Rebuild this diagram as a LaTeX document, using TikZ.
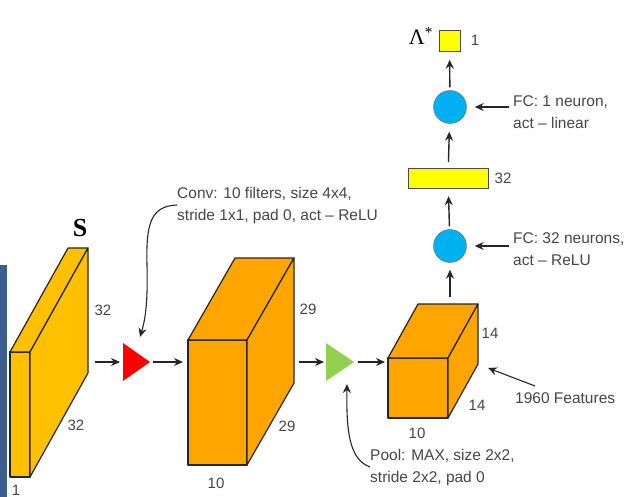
\documentclass[tikz,border=0pt]{standalone}
\usepackage{fontspec}
\setmainfont{Liberation Sans}
\newfontfamily\serifface{Liberation Serif}
\usetikzlibrary{arrows.meta,positioning,calc}

\definecolor{inputgold}{RGB}{255,192,0}
\definecolor{mapamber}{RGB}{255,165,0}
\definecolor{convred}{RGB}{255,0,0}
\definecolor{poolgreen}{RGB}{146,208,80}
\definecolor{fcblue}{RGB}{0,176,240}
\definecolor{vecyellow}{RGB}{255,255,0}
\definecolor{barblue}{RGB}{59,95,140}
\definecolor{txtgray}{RGB}{70,70,70}

\begin{document}
\begin{tikzpicture}[
    x=1pt, y=-1pt,
    face_style/.style={draw=black!85, line width=1.2pt, line join=round},
    dim_lbl/.style={font=\fontsize{15}{18}\selectfont, text=txtgray, inner sep=0pt},
    note_lbl/.style={font=\fontsize{15.5}{22}\selectfont, text=txtgray, align=left, anchor=west, inner sep=0pt},
    neuron_style/.style={circle, draw=black!60, thin, fill=fcblue, minimum size=33pt, inner sep=0pt},
    vec_style/.style={draw=black!70, thin, fill=vecyellow, inner sep=0pt},
    arr/.style={-{Stealth[length=9pt, width=8pt]}, line width=1.4pt, black!85}
]
\useasboundingbox (0,0) rectangle (631,497);

% ===== edge strip on the left =====
\fill[barblue] (0,265) rectangle (7,497);

% ===== input S (1 x 32 x 32) =====
\filldraw[face_style, fill=inputgold] (10,352) rectangle (30,477);
\filldraw[face_style, fill=inputgold] (10,352) -- (68,248) -- (88,248) -- (30,352) -- cycle;
\filldraw[face_style, fill=inputgold] (30,352) -- (88,248) -- (88,373) -- (30,477) -- cycle;
\node[font=\serifface\bfseries\fontsize{26}{28}\selectfont] (s_lbl) at (80,228) {S};
\node[dim_lbl] (in_h) at (103,310) {32};
\node[dim_lbl] (in_w) at (76,425) {32};
\node[dim_lbl] (in_d) at (16,490) {1};

% ===== conv operator (red) =====
\fill[convred] (123,343) -- (150,362) -- (123,381) -- cycle;
\coordinate (conv_in) at (123,362);
\coordinate (conv_out) at (150,362);

% ===== feature maps (10 x 29 x 29) =====
\filldraw[face_style, fill=mapamber] (188,340) rectangle (247,465);
\filldraw[face_style, fill=mapamber] (188,340) -- (235,258) -- (294,258) -- (247,340) -- cycle;
\filldraw[face_style, fill=mapamber] (247,340) -- (294,258) -- (294,383) -- (247,465) -- cycle;
\node[dim_lbl] (c2_h) at (308,309) {29};
\node[dim_lbl] (c2_w) at (287,426) {29};
\node[dim_lbl] (c2_d) at (216,483) {10};

% ===== pool operator (green) =====
\fill[poolgreen] (326,343) -- (354,362) -- (326,381) -- cycle;
\coordinate (pool_in) at (326,362);
\coordinate (pool_out) at (354,362);

% ===== pooled maps (10 x 14 x 14) =====
\filldraw[face_style, fill=mapamber] (388,358) rectangle (448,418);
\filldraw[face_style, fill=mapamber] (388,358) -- (418,304) -- (478,304) -- (448,358) -- cycle;
\filldraw[face_style, fill=mapamber] (448,358) -- (478,304) -- (478,364) -- (448,418) -- cycle;
\node[dim_lbl] (c3_h) at (490,333) {14};
\node[dim_lbl] (c3_w) at (477,405) {14};
\node[dim_lbl] (c3_d) at (417,433) {10};

% Arrows along the main row
\coordinate (in_out) at (95,362);
\coordinate (c2_in) at (188,362);
\coordinate (c2_out) at (299,362);
\coordinate (c3_in) at (388,362);
\draw[arr, shorten >=3pt] (in_out) -- (conv_in);
\draw[arr, shorten <=3pt, shorten >=5pt] (conv_out) -- (c2_in);
\draw[arr, shorten >=2pt] (c2_out) -- (pool_in);
\draw[arr, shorten <=4pt, shorten >=3pt] (pool_out) -- (c3_in);

% ===== fully connected part =====
\node[neuron_style] (fc32) at (450,246) {};
\node[vec_style, minimum width=80pt, minimum height=20pt] (h32) at (448,178) {};
\node[neuron_style] (fc1) at (450,107) {};
\node[vec_style, minimum size=21pt] (out1) at (449.5,41) {};
\node[dim_lbl] (h32_lbl) at (503,178) {32};
\node[dim_lbl] (out1_lbl) at (475,40) {1};
\node[font=\serifface\fontsize{22}{24}\selectfont] (lam_lbl) at (421,36) {Λ\textsuperscript{*}};

\coordinate (c3_top) at (450,297);
\draw[arr, shorten >=7pt] (c3_top) -- (fc32);
\draw[arr, shorten <=3pt, shorten >=8pt] (fc32) -- (h32);
\draw[arr, shorten <=6pt, shorten >=8pt] (h32) -- (fc1);
\draw[arr, shorten <=3pt, shorten >=8pt] (fc1) -- (out1);

% ===== notes =====
\node[note_lbl] (conv_note) at (177,205) {Conv: 10 filters, size 4x4,\\stride 1x1, pad 0, act -- ReLU};
\node[note_lbl] (pool_note) at (370,467) {Pool: MAX, size 2x2,\\stride 2x2, pad 0};
\node[note_lbl] (feat_note) at (515,398) {1960 Features};
\node[note_lbl] (fc32_note) at (513,249) {FC: 32 neurons,\\act -- ReLU};
\node[note_lbl] (fc1_note) at (513,112) {FC: 1 neuron,\\act -- linear};

\coordinate (conv_hint) at (140,337);
\draw[arr, line width=1.1pt] (conv_note.west) .. controls (150,206) and (146,225) .. (147,265)
    .. controls (148,305) and (145,320) .. (conv_hint);
\coordinate (pool_hint) at (347,384);
\draw[arr, line width=1.1pt] (pool_note.west) .. controls (352,460) and (346,440) .. (pool_hint);
\coordinate (feat_tail) at (535,386);
\coordinate (c3_side) at (488,368);
\draw[arr, line width=1.1pt] (feat_tail) -- (c3_side);
\draw[arr, shorten <=4pt, shorten >=8pt] (fc32_note.west |- fc32) -- (fc32);
\draw[arr, shorten <=4pt, shorten >=8pt] (fc1_note.west |- fc1) -- (fc1);

\end{tikzpicture}
\end{document}
